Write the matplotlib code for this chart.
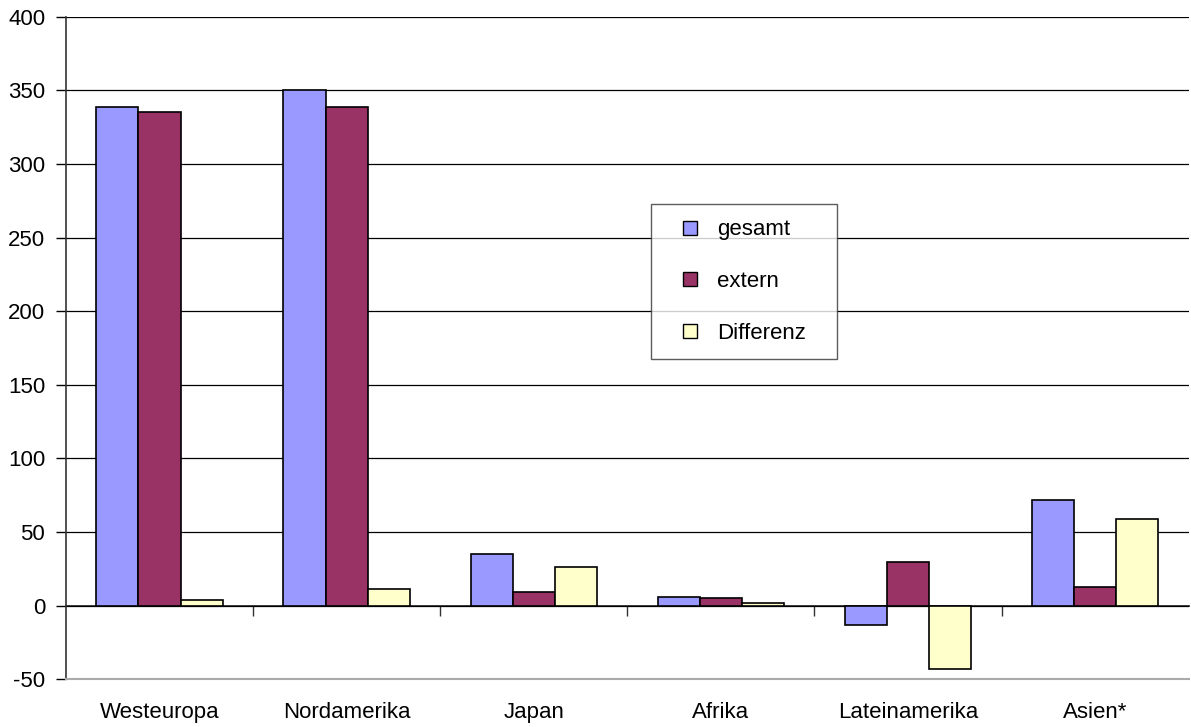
import numpy as np
import matplotlib.pyplot as plt
from matplotlib.lines import Line2D

plt.rcParams['font.family'] = ['Liberation Sans', 'DejaVu Sans']
plt.rcParams['axes.unicode_minus'] = False

regions = ['Westeuropa', 'Nordamerika', 'Japan', 'Afrika', 'Lateinamerika', 'Asien*']
gesamt = [339, 350, 35, 6, -13, 72]
extern = [335, 339, 9, 5, 30, 13]
differenz = [4, 11, 26, 2, -43, 59]

series = [('gesamt', gesamt, '#9999FF'),
          ('extern', extern, '#993366'),
          ('Differenz', differenz, '#FFFFCC')]

ymin, ymax = -50, 400
fs = 16

fig = plt.figure(figsize=(11.91, 7.27), dpi=100)
ax = fig.add_axes([0.0554, 0.0656, 0.9426, 0.9114])

x = np.arange(len(regions))
width = 0.225
for i, (name, vals, col) in enumerate(series):
    ax.bar(x + (i - 1) * width, vals, width, color=col, edgecolor='black',
           linewidth=1.2, label=name, zorder=3)

ax.set_xlim(-0.5, len(regions) - 0.5)
ax.set_ylim(ymin, ymax)
ax.set_yticks(np.arange(ymin, ymax + 1, 50))
ax.yaxis.grid(True, color='black', linewidth=0.9, zorder=0)
ax.set_axisbelow(True)

ax.set_xticks(x)
ax.set_xticklabels(regions)
ax.tick_params(axis='x', length=0, pad=16, labelsize=fs)
ax.tick_params(axis='y', length=7, width=1, direction='out', pad=8, labelsize=fs)

for side in ['top', 'right']:
    ax.spines[side].set_visible(False)
ax.spines['left'].set_color('#333333')
ax.spines['left'].set_linewidth(1.2)
ax.spines['bottom'].set_color('#aaaaaa')
ax.spines['bottom'].set_linewidth(1.5)

# zero line with category separator ticks
zero_pos = (0 - ymin) / (ymax - ymin)
sec = ax.secondary_xaxis(zero_pos)
sec.set_xticks(np.arange(len(regions) - 1) + 0.5)
sec.set_xticklabels([])
sec.tick_params(length=7, width=1, direction='out', color='#333333')
sec.spines['bottom'].set_color('#333333')
sec.spines['bottom'].set_linewidth(1.3)

# legend with square swatches
handles = [Line2D([], [], linestyle='none', marker='s', markersize=10.5,
                  markerfacecolor=col, markeredgecolor='black', markeredgewidth=1.0)
           for _, _, col in series]
labels = [name for name, _, _ in series]
leg = ax.legend(handles, labels, loc='upper left',
                bbox_to_anchor=(0.521, 0.717, 0.166, 0.0), mode='expand',
                frameon=True, fancybox=False, edgecolor='#333333', fontsize=fs,
                handlelength=2.2, labelspacing=1.38, borderpad=0.68,
                handletextpad=0.1, borderaxespad=0)
leg.get_frame().set_linewidth(1.0)
leg.set_zorder(5)

fig.savefig('out.png', dpi=100)
